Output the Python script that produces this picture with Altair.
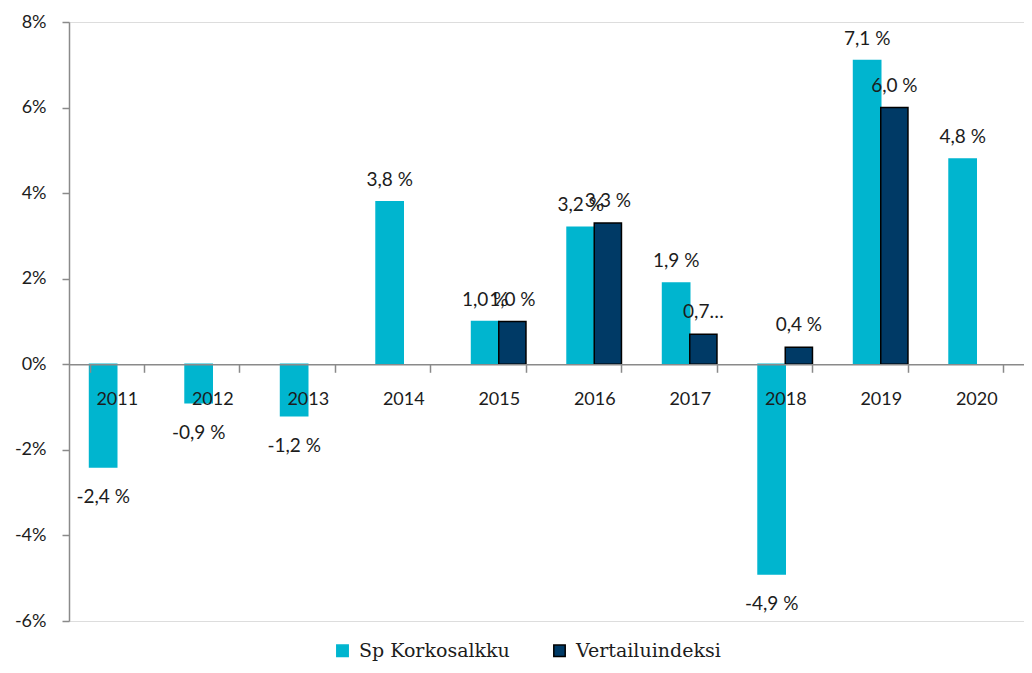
import altair as alt
import pandas as pd

years = ["2011", "2012", "2013", "2014", "2015", "2016", "2017", "2018", "2019", "2020"]
series = ["Sp Korkosalkku", "Vertailuindeksi"]

sp_values = [-2.4, -0.9, -1.2, 3.8, 1.0, 3.2, 1.9, -4.9, 7.1, 4.8]

vert_years = ["2015", "2016", "2017", "2018", "2019"]
vert_values = [1.0, 3.3, 0.7, 0.4, 6.0]
vert_labels = ["1,0 %", "3,3 %", "0,7…", "0,4 %", "6,0 %"]

y_ticks = [-6, -4, -2, 0, 2, 4, 6, 8]


def fmt(v):
    return f"{v:.1f}".replace(".", ",") + " %"


rows = []
for y, v in zip(years, sp_values):
    rows.append({"year": y, "series": series[0], "value": v, "label": fmt(v)})
for y, v, l in zip(vert_years, vert_values, vert_labels):
    rows.append({"year": y, "series": series[1], "value": v, "label": l})
df = pd.DataFrame(rows)

GRAY = "#8a8a8a"
NUM_FONT = "Lato"
TXT = "#1c1c1c"

plot_w = 955
plot_h = 599
zero_from_bottom = plot_h * 6 / 14

base = alt.Chart(df).encode(
    x=alt.X(
        "year:N",
        sort=years,
        scale=alt.Scale(domain=years, paddingInner=0.43, paddingOuter=0.215),
        axis=alt.Axis(
            title=None,
            offset=-zero_from_bottom,
            tickBand="extent",
            domainColor=GRAY,
            domainWidth=1.5,
            tickColor=GRAY,
            tickWidth=1.5,
            tickSize=8,
            labelFont=NUM_FONT,
            labelFontSize=18,
            labelColor=TXT,
            labelPadding=18,
            labelAngle=0,
            grid=False,
            zindex=1,
        ),
    ),
    xOffset=alt.XOffset(
        "series:N", sort=series, scale=alt.Scale(domain=series, paddingInner=0, paddingOuter=0)
    ),
    y=alt.Y(
        "value:Q",
        scale=alt.Scale(domain=[-6, 8], nice=False, zero=False),
        axis=alt.Axis(
            title=None,
            values=y_ticks,
            labelExpr="datum.value + '%'",
            grid=False,
            domainColor=GRAY,
            domainWidth=1.5,
            tickColor=GRAY,
            tickWidth=1.5,
            tickSize=7,
            labelFont=NUM_FONT,
            labelFontSize=18,
            labelColor=TXT,
            labelPadding=16,
        ),
    ),
)

bars = base.mark_bar(strokeWidth=1.5).encode(
    color=alt.Color(
        "series:N",
        sort=series,
        scale=alt.Scale(domain=series, range=["#00B5CF", "#003A66"]),
        legend=alt.Legend(
            title=None,
            orient="none",
            direction="horizontal",
            legendX=264,
            legendY=619,
            symbolType="square",
            symbolSize=130,
            symbolStrokeWidth=1.5,
            labelFont="DejaVu Serif",
            labelFontSize=19,
            labelColor=TXT,
            labelOffset=7,
            columnPadding=40,
        ),
    ),
    stroke=alt.Stroke(
        "series:N",
        sort=series,
        scale=alt.Scale(domain=series, range=["#00B5CF", "#000000"]),
        legend=None,
    ),
)

pos_labels = base.transform_filter("datum.value >= 0").mark_text(
    dy=-22, font=NUM_FONT, fontSize=19, color=TXT, baseline="middle", align="center"
).encode(text="label:N")

neg_labels = base.transform_filter("datum.value < 0").mark_text(
    dy=30, font=NUM_FONT, fontSize=19, color=TXT, baseline="middle", align="center"
).encode(text="label:N")

chart = (
    alt.layer(bars, pos_labels, neg_labels)
    .properties(
        width=plot_w,
        height=plot_h,
        autosize=alt.AutoSizeParams(type="none"),
        padding={"left": 61, "top": 14, "right": 0, "bottom": 44},
    )
    .configure_view(strokeWidth=0)
    .configure(background="white")
)

chart.save("out.html", embed_options={"renderer": "svg", "actions": False})
